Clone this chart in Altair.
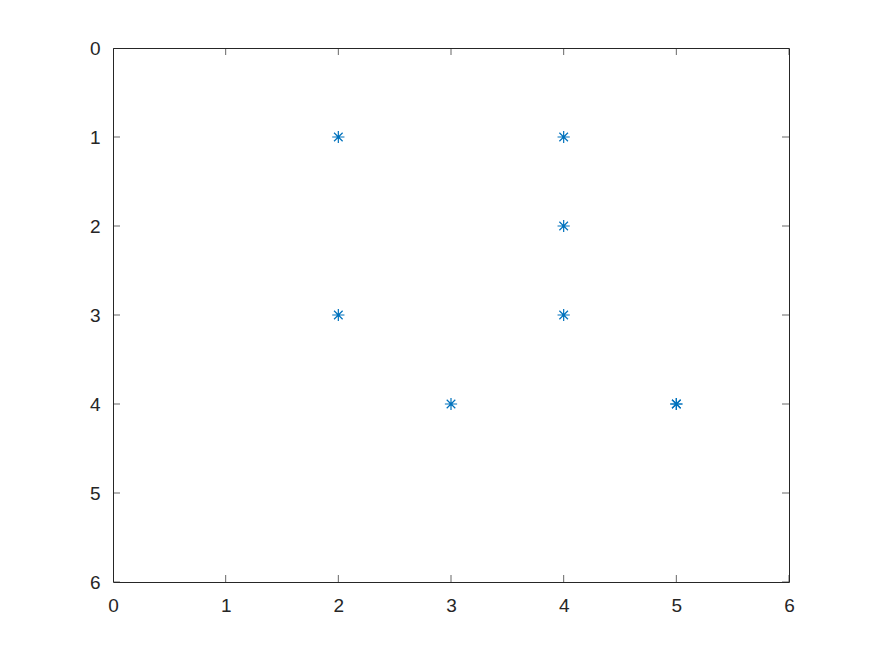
import altair as alt
import pandas as pd

xs = [2, 4, 4, 2, 4, 3, 5, 5]
ys = [1, 1, 2, 3, 3, 4, 4, 4]
ticks = [0, 1, 2, 3, 4, 5, 6]

W, H = 676, 534

pts = pd.DataFrame({"x": xs, "y": ys})
tk = pd.DataFrame({"t": ticks})

xscale = alt.Scale(domain=[0, 6], nice=False)
yscale = alt.Scale(domain=[0, 6], nice=False, reverse=True)

axis_common = dict(
    grid=False, domain=False, ticks=False, labelFontSize=19,
    labelColor="#262626", labelFont="Liberation Sans", title=None,
    values=ticks, format="d", labelFlush=False, labelOverlap=False,
)
xaxis = alt.Axis(orient="bottom", labelPadding=14, **axis_common)
yaxis = alt.Axis(orient="left", labelPadding=13, **axis_common)

asterisk = "M-1,0L1,0M0,-1L0,1M-0.7,-0.7L0.7,0.7M-0.7,0.7L0.7,-0.7"

points = alt.Chart(pts).mark_point(
    shape=asterisk, size=150, color="#0072BD", strokeWidth=1.2, filled=False, opacity=1
).encode(
    x=alt.X("x:Q", scale=xscale, axis=xaxis),
    y=alt.Y("y:Q", scale=yscale, axis=yaxis),
)

tick_style = dict(size=14, thickness=1, color="#262626", clip=True)
xt_top = alt.Chart(tk).mark_tick(orient="vertical", **tick_style).encode(
    x=alt.X("t:Q", scale=xscale, axis=xaxis), y=alt.value(0))
xt_bot = alt.Chart(tk).mark_tick(orient="vertical", **tick_style).encode(
    x=alt.X("t:Q", scale=xscale, axis=xaxis), y=alt.value(H))
yt_l = alt.Chart(tk).mark_tick(orient="horizontal", **tick_style).encode(
    y=alt.Y("t:Q", scale=yscale, axis=yaxis), x=alt.value(0))
yt_r = alt.Chart(tk).mark_tick(orient="horizontal", **tick_style).encode(
    y=alt.Y("t:Q", scale=yscale, axis=yaxis), x=alt.value(W))

chart = alt.layer(points, xt_top, xt_bot, yt_l, yt_r).properties(
    width=W, height=H,
    autosize=alt.AutoSizeParams(type="none"),
    padding={"left": 105, "top": 40, "right": 75, "bottom": 60},
    background="white",
).configure_view(stroke="#262626", strokeWidth=1)

chart.save("out.html", embed_options={"renderer": "svg", "actions": False})
